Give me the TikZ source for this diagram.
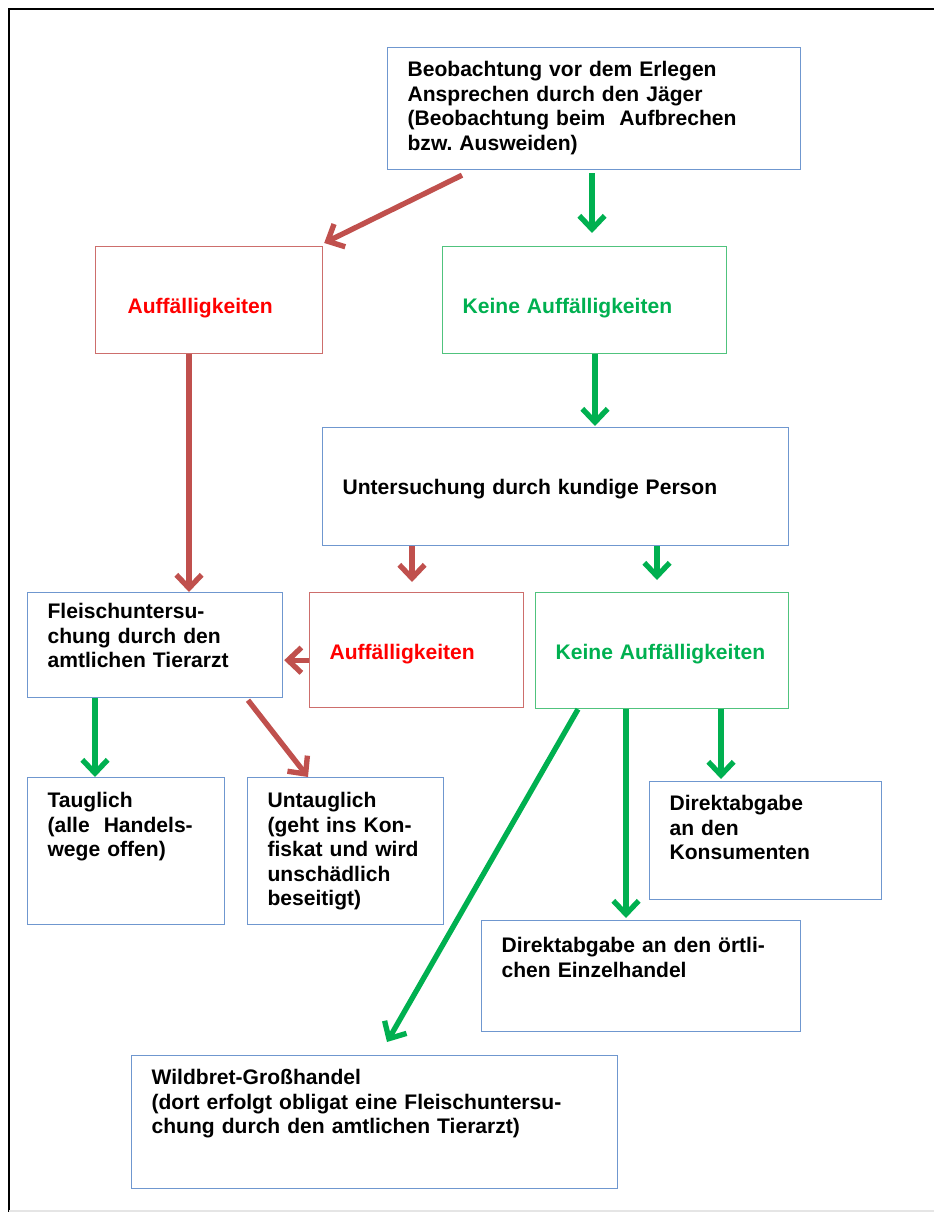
\documentclass[tikz,border=0pt]{standalone}
\usepackage{fontspec}
\setmainfont{Liberation Sans}
\usetikzlibrary{arrows.meta,calc}
\definecolor{boxblue}{RGB}{111,151,207}
\definecolor{boxred}{RGB}{205,110,108}
\definecolor{boxgreen}{RGB}{80,195,125}
\definecolor{arrred}{RGB}{192,80,77}
\definecolor{arrgreen}{RGB}{0,176,80}
\definecolor{txtred}{RGB}{255,0,0}
\frenchspacing

\begin{document}
\begin{tikzpicture}[
  x=0.75pt, y=-0.75pt,
  box/.style={draw=boxblue, line width=0.9pt, anchor=north west, inner xsep=15pt,
              inner ysep=0pt, align=left, font=\fontsize{15.8}{18.4}\selectfont\bfseries},
  redbox/.style={box, draw=boxred, text=txtred},
  greenbox/.style={box, draw=boxgreen, text=arrgreen},
  arr/.style={line width=4pt, -{Straight Barb[length=10pt,width=19pt]}},
  redarr/.style={arr, draw=arrred},
  greenarr/.style={arr, draw=arrgreen}
]
  \useasboundingbox (0,0) rectangle (934,1212);
  \draw[line width=1.6pt] (9,1212) -- (9,9) -- (934,9);
  \draw[gray!20, line width=0.8pt] (9,1211) -- (934,1211);

  \node[box, text width=279.75pt, text height=21.75pt, text depth=69.75pt] (top) at (387,47)
    {Beobachtung vor dem Erlegen\\Ansprechen durch den Jäger\\(Beobachtung beim~ Aufbrechen\\bzw. Ausweiden)};
  \node[redbox, inner xsep=24pt, text width=122.25pt, text height=50.25pt, text depth=30pt] (auff1) at (95,246)
    {Auffälligkeiten};
  \node[greenbox, text width=183pt, text height=50.25pt, text depth=30pt] (keine1) at (442,246)
    {Keine Auffälligkeiten};
  \node[box, text width=319.5pt, text height=50.25pt, text depth=38.25pt] (unters) at (322,427)
    {Untersuchung durch kundige Person};
  \node[box, text width=161.25pt, text height=19.5pt, text depth=59.25pt] (fleisch) at (27,592)
    {Fleischuntersu-\\chung durch den\\amtlichen Tierarzt};
  \node[redbox, text width=130.5pt, text height=50.25pt, text depth=36pt] (auff2) at (309,592)
    {Auffälligkeiten};
  \node[greenbox, text width=159.75pt, text height=50.25pt, text depth=36.75pt] (keine2) at (535,592)
    {Keine Auffälligkeiten};
  \node[box, text width=117.75pt, text height=22.5pt, text depth=87.75pt] (taugl) at (27,777)
    {Tauglich\\(alle~ Handels-\\wege offen)};
  \node[box, text width=117pt, text height=22.5pt, text depth=87.75pt] (untaugl) at (247,777)
    {Untauglich\\(geht ins Kon-\\fiskat und wird\\unschädlich\\beseitigt)};
  \node[box, text width=144pt, text height=21.75pt, text depth=66.75pt] (konsum) at (649,781)
    {Direktabgabe\\an den\\Konsumenten};
  \node[box, text width=209.25pt, text height=24pt, text depth=59.25pt] (einzel) at (481,920)
    {Direktabgabe an den örtli-\\chen Einzelhandel};
  \node[box, text width=334.5pt, text height=21.75pt, text depth=78pt] (wild) at (131,1055)
    {Wildbret-Großhandel\\(dort erfolgt obligat eine Fleischuntersu-\\chung durch den amtlichen Tierarzt)};

  % Beobachtung
  \draw[redarr]   ($(top.south west)+(75,5)$)     -- ($(auff1.north east)+(1,-3)$);
  \draw[greenarr] ($(top.south west)+(205,3)$)    -- ($(keine1.north west)+(150,-13)$);
  \draw[greenarr] ($(keine1.south west)+(153,0)$) -- ($(unters.north west)+(273,-1)$);
  \draw[redarr]   ($(auff1.south west)+(94,0)$)   -- ($(fleisch.north west)+(162,0)$);
  % kundige Person
  \draw[redarr]   ($(unters.south west)+(90,0)$)  -- ($(auff2.north west)+(103,-10)$);
  \draw[greenarr] ($(unters.south west)+(335,0)$) -- ($(keine2.north west)+(122,-12)$);
  \draw[redarr]   ($(auff2.south west)+(0,-48)$)  -- ($(fleisch.south east)+(1,-38)$);
  % Tierarzt
  \draw[greenarr] ($(fleisch.south west)+(68,0)$) -- ($(taugl.north west)+(68,0)$);
  \draw[redarr]   ($(fleisch.south west)+(221,2)$) -- ($(untaugl.north west)+(61,0)$);
  % Abgabe
  \draw[greenarr] ($(keine2.south west)+(43,0)$)  -- ($(wild.north west)+(256,-13)$);
  \draw[greenarr] ($(keine2.south west)+(91,0)$)  -- ($(einzel.north west)+(145,-2)$);
  \draw[greenarr] ($(keine2.south west)+(186,0)$) -- ($(konsum.north west)+(72,-2)$);
\end{tikzpicture}
\end{document}
